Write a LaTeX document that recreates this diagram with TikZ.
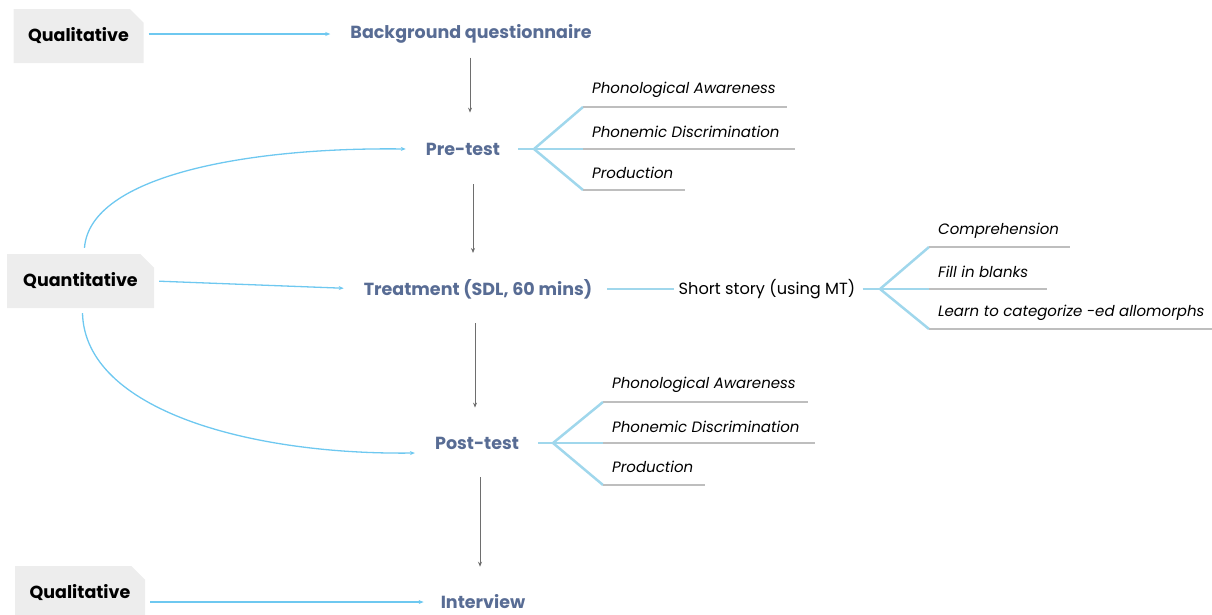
\documentclass[tikz,border=0pt]{standalone}
\usepackage{fontspec}
\setmainfont{Poppins}
\usetikzlibrary{arrows.meta,shapes.misc}

\definecolor{skyline}{RGB}{110,200,240}
\definecolor{branchblue}{RGB}{160,215,236}
\definecolor{rulegray}{RGB}{190,190,190}
\definecolor{stageblue}{RGB}{88,108,148}
\definecolor{boxgray}{RGB}{237,237,237}
\definecolor{flowgray}{RGB}{110,110,110}

\tikzset{
  method/.style={chamfered rectangle, chamfered rectangle corners=north east,
    chamfered rectangle xsep=10pt, fill=boxgray, minimum height=54pt,
    font=\bfseries\fontsize{17.5}{20}\selectfont, text=black},
  stage/.style={inner sep=0pt, text=stageblue, font=\bfseries\fontsize{17.5}{20}\selectfont},
  item/.style={inner sep=0pt, anchor=west, font=\itshape\fontsize{15}{17}\selectfont},
  link/.style={skyline, line width=1.3pt, -{Stealth[length=5pt,width=4pt]}},
  flow/.style={flowgray, line width=0.8pt, -{Stealth[length=5pt,width=4pt]}},
  branch/.style={branchblue, line width=2.5pt},
  underline/.style={rulegray, line width=1.2pt},
}

\begin{document}
\begin{tikzpicture}[x=1pt,y=-1pt]
            \useasboundingbox (0,0) rectangle (1212,614);

            % method boxes
            \node[method, minimum width=130pt] (qual1) at (78.5,36) {Qualitative};
            \node[method, minimum width=147pt] (quan) at (80.5,281) {Quantitative};
            \node[method, minimum width=130pt] (qual2) at (80,593) {Qualitative};

            % stages
            \node[stage] (bg) at (471,34) {Background questionnaire};
            \node[stage] (pre) at (463,149) {Pre-test};
            \node[stage] (treat) at (478,289) {Treatment (SDL, 60 mins)};
            \node[stage] (post) at (477,443) {Post-test};
            \node[stage] (intv) at (483,602) {Interview};
            \node[inner sep=0pt, font=\fontsize{16.2}{18}\selectfont] (story) at (767,289) {Short story (using MT)};

            \draw[link, shorten <=5pt, shorten >=20pt] (qual1.east |- bg.west) -- (bg.west);
            \draw[link, shorten <=5pt, shorten >=20pt] (quan.east) -- (treat.west);
            \draw[link, shorten <=5pt, shorten >=17pt] (qual2.east |- intv.west) -- (intv.west);

            \draw[link] ([xshift=4pt,yshift=6pt]quan.north) .. controls (90,175) and (250,147) .. ([xshift=-20pt]pre.west);
            \draw[link] ([xshift=2pt,yshift=-5pt]quan.south) .. controls (85,410) and (250,455) .. ([xshift=-20pt,yshift=-10pt]post.west);

            \draw[flow, shorten <=14pt, shorten >=30pt] ([xshift=-1pt]bg.south) -- ([xshift=-1pt]bg.south |- pre.north);
            \draw[flow, shorten <=29pt, shorten >=26pt] ([xshift=10pt]pre.south) -- ([xshift=-5pt]treat.north);
            \draw[flow, shorten <=24pt, shorten >=29pt] ([xshift=-3pt]treat.south) -- ([xshift=-2pt]post.north);
            \draw[flow, shorten <=28pt, shorten >=28pt] ([xshift=3pt]post.south) -- ([xshift=-3pt]intv.north);

            % pre-test tasks
            \coordinate (prefork) at (534,149);
            \coordinate (pre1) at (583,107);
            \coordinate (pre2) at (583,149);
            \coordinate (pre3) at (583,190);
            \draw[branch, shorten <=18pt] (pre.east) -- (prefork);
            \draw[branch] (pre1) -- (prefork) -- (pre3);
            \draw[branch] (prefork) -- (pre2);
            \draw[underline] (pre1) -- (787,107);
            \draw[underline] (pre2) -- (795,149);
            \draw[underline] (pre3) -- (685,190);
            \node[item] (prepa) at (592,90) {Phonological Awareness};
            \node[item] (prepd) at (592,132) {Phonemic Discrimination};
            \node[item] (prepr) at (592,173) {Production};

            % treatment
            \coordinate (storyfork) at (880,289);
            \coordinate (story1) at (929,247);
            \coordinate (story2) at (929,289);
            \coordinate (story3) at (929,329);
            \draw[branch, shorten <=15pt, shorten >=5pt] (treat.east) -- (story.west);
            \draw[branch, shorten <=7pt] (story.east) -- (storyfork);
            \draw[branch] (story1) -- (storyfork) -- (story3);
            \draw[branch] (storyfork) -- (story2);
            \draw[underline] (story1) -- (1070,247);
            \draw[underline] (story2) -- (1047,289);
            \draw[underline] (story3) -- (1212,329);
            \node[item] (comp) at (938,231) {Comprehension};
            \node[item] (fill) at (938,272) {Fill in blanks};
            \node[item] (allo) at (938,313) {Learn to categorize -ed allomorphs};

            % post-test tasks
            \coordinate (postfork) at (553,443);
            \coordinate (post1) at (603,402);
            \coordinate (post2) at (603,443);
            \coordinate (post3) at (603,485);
            \draw[branch, shorten <=19pt] (post.east) -- (postfork);
            \draw[branch] (post1) -- (postfork) -- (post3);
            \draw[branch] (postfork) -- (post2);
            \draw[underline] (post1) -- (808,402);
            \draw[underline] (post2) -- (815,443);
            \draw[underline] (post3) -- (705,485);
            \node[item] (postpa) at (612,385) {Phonological Awareness};
            \node[item] (postpd) at (612,427) {Phonemic Discrimination};
            \node[item] (postpr) at (612,467) {Production};
        \end{tikzpicture}
\end{document}
